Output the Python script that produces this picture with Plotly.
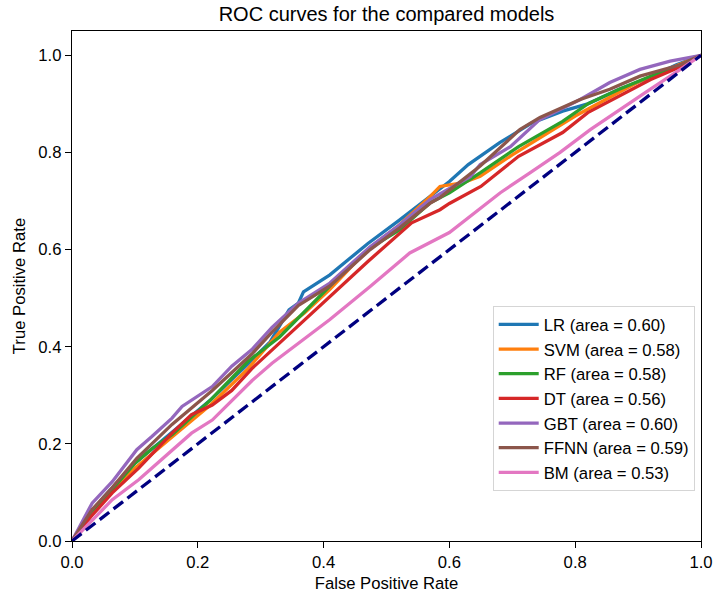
import plotly.graph_objects as go

# ---- data ----
names = ["LR", "SVM", "RF", "DT", "GBT", "FFNN", "BM"]
areas = [0.60, 0.58, 0.58, 0.56, 0.60, 0.59, 0.53]
colors = ["#1f77b4", "#ff7f0e", "#2ca02c", "#d62728", "#9467bd", "#8c564b", "#e377c2"]

lr_fpr = [0, 0.02, 0.05, 0.1, 0.16, 0.22, 0.28, 0.315, 0.345, 0.36, 0.368, 0.41, 0.44, 0.47, 0.52, 0.57, 0.60, 0.63, 0.68, 0.73, 0.78, 0.82, 0.87, 0.92, 0.96, 1.0]
lr_tpr = [0, 0.04, 0.09, 0.16, 0.225, 0.29, 0.365, 0.41, 0.476, 0.49, 0.513, 0.548, 0.58, 0.612, 0.66, 0.71, 0.74, 0.775, 0.82, 0.86, 0.885, 0.9, 0.93, 0.955, 0.98, 1.0]

svm_fpr = [0, 0.03, 0.06, 0.1, 0.16, 0.22, 0.28, 0.33, 0.37, 0.41, 0.47, 0.52, 0.57, 0.585, 0.622, 0.649, 0.7, 0.75, 0.8, 0.85, 0.9, 0.95, 1.0]
svm_tpr = [0, 0.06, 0.1, 0.15, 0.215, 0.28, 0.355, 0.43, 0.47, 0.518, 0.6, 0.65, 0.71, 0.73, 0.738, 0.751, 0.795, 0.835, 0.875, 0.91, 0.945, 0.972, 1.0]

rf_fpr = [0, 0.03, 0.06, 0.1, 0.127, 0.16, 0.22, 0.28, 0.33, 0.36, 0.41, 0.47, 0.52, 0.57, 0.6, 0.65, 0.71, 0.78, 0.82, 0.87, 0.92, 0.97, 1.0]
rf_tpr = [0, 0.06, 0.1, 0.16, 0.19, 0.22, 0.29, 0.37, 0.42, 0.46, 0.525, 0.6, 0.64, 0.697, 0.717, 0.759, 0.812, 0.864, 0.9, 0.93, 0.957, 0.981, 1.0]

dt_fpr = [0, 0.03, 0.064, 0.106, 0.159, 0.19, 0.223, 0.254, 0.286, 0.33, 0.41, 0.47, 0.54, 0.585, 0.6, 0.65, 0.71, 0.78, 0.82, 0.87, 0.92, 0.97, 1.0]
dt_tpr = [0, 0.05, 0.099, 0.15, 0.222, 0.26, 0.28, 0.31, 0.355, 0.408, 0.503, 0.575, 0.655, 0.682, 0.695, 0.73, 0.792, 0.841, 0.882, 0.916, 0.95, 0.978, 1.0]

gbt_fpr = [0, 0.032, 0.064, 0.103, 0.127, 0.159, 0.175, 0.223, 0.254, 0.286, 0.318, 0.36, 0.41, 0.474, 0.521, 0.569, 0.633, 0.649, 0.697, 0.744, 0.808, 0.855, 0.903, 0.951, 1.0]
gbt_tpr = [0, 0.078, 0.122, 0.188, 0.215, 0.253, 0.277, 0.318, 0.36, 0.394, 0.44, 0.49, 0.531, 0.606, 0.651, 0.703, 0.75, 0.775, 0.812, 0.868, 0.909, 0.944, 0.971, 0.988, 1.0]

ffnn_fpr = [0, 0.032, 0.064, 0.103, 0.159, 0.223, 0.286, 0.318, 0.36, 0.41, 0.474, 0.521, 0.569, 0.585, 0.649, 0.712, 0.744, 0.808, 0.855, 0.903, 0.966, 1.0]
ffnn_tpr = [0, 0.065, 0.11, 0.17, 0.24, 0.31, 0.385, 0.43, 0.485, 0.525, 0.6, 0.645, 0.695, 0.707, 0.772, 0.847, 0.872, 0.909, 0.93, 0.957, 0.98, 1.0]

bm_fpr = [0, 0.032, 0.064, 0.106, 0.159, 0.19, 0.223, 0.254, 0.286, 0.318, 0.347, 0.41, 0.474, 0.537, 0.6, 0.633, 0.681, 0.728, 0.776, 0.824, 0.871, 0.919, 0.966, 1.0]
bm_tpr = [0, 0.043, 0.085, 0.126, 0.187, 0.222, 0.249, 0.29, 0.33, 0.366, 0.394, 0.456, 0.524, 0.593, 0.635, 0.668, 0.717, 0.758, 0.8, 0.847, 0.889, 0.93, 0.97, 1.0]

diag = [0, 1]
tick_vals = [0, 0.2, 0.4, 0.6, 0.8, 1.0]

fprs = [lr_fpr, svm_fpr, rf_fpr, dt_fpr, gbt_fpr, ffnn_fpr, bm_fpr]
tprs = [lr_tpr, svm_tpr, rf_tpr, dt_tpr, gbt_tpr, ffnn_tpr, bm_tpr]

FONT = "Liberation Sans, Arial, sans-serif"
FS = 16.67

fig = go.Figure()
for n, a, c, fx, fy in zip(names, areas, colors, fprs, tprs):
    fig.add_trace(go.Scatter(x=fx, y=fy, mode="lines", name=f"{n} (area = {a:.2f})",
                             line=dict(color=c, width=3.3)))
fig.add_trace(go.Scatter(x=diag, y=diag, mode="lines", showlegend=False,
                         line=dict(color="navy", width=3.3, dash="12px,5.5px")))

axis_common = dict(showgrid=False, zeroline=False, showline=True, linecolor="black",
                   linewidth=1.4, mirror=True, ticks="outside", ticklen=6, tickwidth=1.4,
                   tickcolor="black", automargin=False,
                   tickfont=dict(family=FONT, size=FS, color="black"))

fig.update_layout(
    width=714, height=598,
    margin=dict(l=72, r=13, t=31, b=57),
    paper_bgcolor="white", plot_bgcolor="white",
    title=dict(text="ROC curves for the compared models", x=0.5, xref="paper", xanchor="center",
               y=1 - 14 / 598, yref="container", yanchor="middle",
               font=dict(family=FONT, size=20, color="black")),
    xaxis=dict(range=[0, 1], tickvals=tick_vals, tickformat=".1f",
               title=dict(text="False Positive Rate", standoff=6,
                          font=dict(family=FONT, size=FS, color="black")), **axis_common),
    yaxis=dict(range=[0, 1.05], tickvals=tick_vals, tickformat=".1f",
               title=dict(text="True Positive Rate", standoff=8,
                          font=dict(family=FONT, size=FS, color="black")), **axis_common),
    legend=dict(x=0.99, y=0.098, xanchor="right", yanchor="bottom",
                bgcolor="rgba(255,255,255,0.8)", bordercolor="#d5d5d5", borderwidth=1,
                font=dict(family=FONT, size=FS, color="black"), tracegroupgap=0,
                itemwidth=40),
    showlegend=True,
)

fig.write_html("out.html")
